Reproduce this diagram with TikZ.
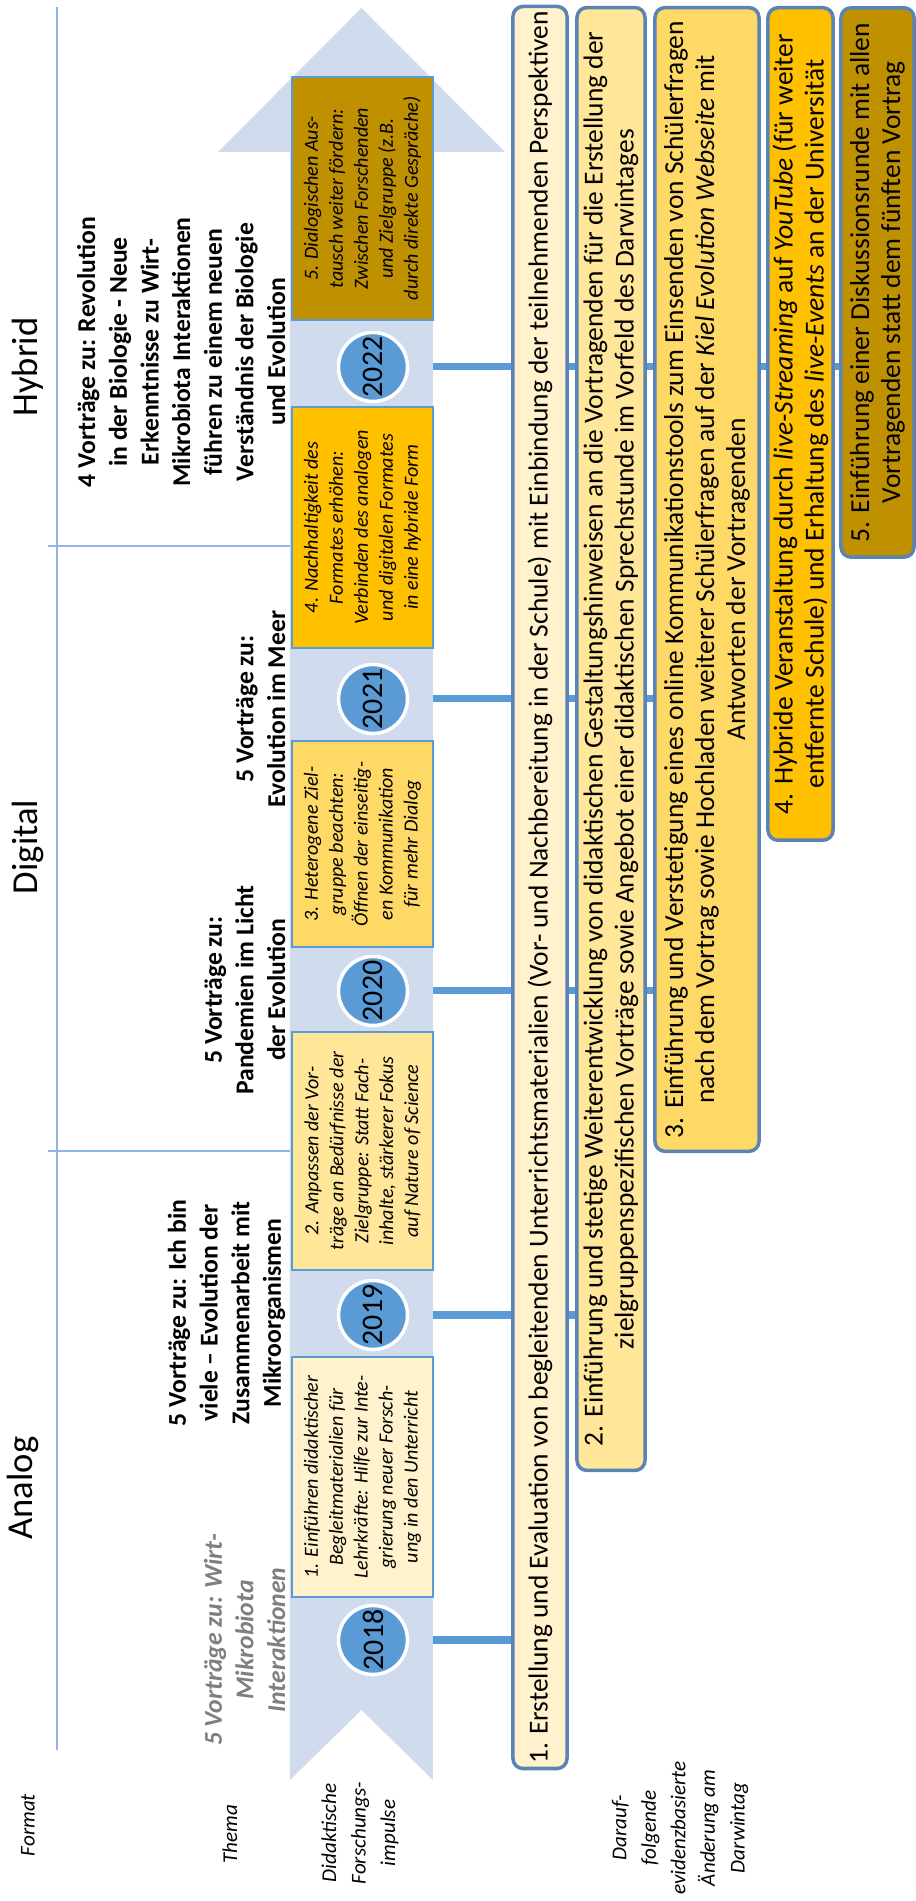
\documentclass[tikz,border=0pt]{standalone}
\usepackage{fontspec}
\setmainfont{Carlito}
\usepackage{tikz}
\usetikzlibrary{backgrounds}
\usepackage{xcolor}
\definecolor{ArrowBg}{HTML}{D0DBEE}
\definecolor{YearBlue}{HTML}{5B9BD5}
\definecolor{GridBlue}{HTML}{8EB4E3}
\definecolor{BoxBorder}{HTML}{5B84B4}
\definecolor{ImpOne}{HTML}{FFF2CC}
\definecolor{ImpTwo}{HTML}{FFE699}
\definecolor{ImpThree}{HTML}{FFD966}
\definecolor{ImpFour}{HTML}{FFC000}
\definecolor{ImpFive}{HTML}{BF9000}
\definecolor{ThemeGray}{HTML}{7F7F7F}

\begin{document}
\begin{tikzpicture}[x=0.01cm, y=0.01cm, rotate=90, transform shape,
    formatlabel/.style={font=\fontsize{10.4}{12}\selectfont, inner sep=0pt, anchor=base},
    rowlabel/.style={font=\fontsize{6}{8.4}\selectfont\itshape, align=center, inner sep=0pt},
    themenode/.style={font=\fontsize{7.3}{9}\selectfont\bfseries, align=center, inner sep=0pt, anchor=south},
    impnode/.style={draw=YearBlue, line width=0.5pt, font=\fontsize{5.7}{7.1}\selectfont\itshape, align=center, minimum height=1.41cm, inner sep=0pt},
    yearnode/.style={circle, fill=YearBlue, draw=white, line width=1pt, minimum size=0.69cm, inner sep=0pt, font=\fontsize{8.5}{10}\selectfont},
    changenode/.style={draw=BoxBorder, line width=1pt, rounded corners=1mm, font=\fontsize{7.8}{8.8}\selectfont, align=center, inner sep=0pt},
    yearline/.style={draw=YearBlue, line width=2pt},
    gridline/.style={draw=GridBlue, line width=0.6pt}
  ]
    \useasboundingbox (0, 0) rectangle (1901, 916);

    \draw[gridline] (151, 859) -- (1894, 859);
    \draw[gridline] (750, 623) -- (750, 868);
    \draw[gridline] (1355, 623) -- (1355, 868);

    \node[formatlabel] (analog) at (413, 883) {Analog};
    \node[formatlabel] (digital) at (1054, 878) {Digital};
    \node[formatlabel] (hybrid) at (1534, 878) {Hybrid};

    \node[rowlabel] (lformat) at (76, 888) {Format};
    \node[rowlabel] (lthema) at (67, 686) {Thema};
    \node[rowlabel] (limpuls) at (68, 556) {Didaktische\\Forschungs-\\impulse};
    \node[rowlabel] (laenderung) at (73, 236) {Darauf-\\folgende\\evidenzbasierte\\Änderung am\\Darwintag};

    \node[themenode, text=ThemeGray, font=\fontsize{7.3}{9}\selectfont\bfseries\itshape] (t2018) at (261, 630) {5 Vorträge zu: Wirt-\\Mikrobiota\\Interaktionen};
    \node[themenode] (t2019) at (588, 630) {5 Vorträge zu: Ich bin\\viele – Evolution der\\Zusammenarbeit mit\\Mikroorganismen};
    \node[themenode] (t2020) at (911, 630) {5 Vorträge zu:\\Pandemien im Licht\\der Evolution};
    \node[themenode] (t2021) at (1192, 630) {5 Vorträge zu:\\Evolution im Meer};
    \node[themenode] (t2022) at (1549, 630) {4 Vorträge zu: Revolution\\in der Biologie - Neue\\Erkenntnisse zu Wirt-\\Mikrobiota Interaktionen\\führen zu einem neuen\\Verständnis der Biologie\\und Evolution};

    \fill[ArrowBg] (121, 483) -- (1749, 483) -- (1749, 411) -- (1893, 554.5) -- (1749, 698) -- (1749, 626) -- (121, 626) -- (191, 554.5) -- cycle;

    \node[impnode, fill=ImpOne, minimum width=2.40cm] (i1) at (424, 553.5) {1. Einführen didaktischer\\Begleitmaterialien für\\Lehrkräfte: Hilfe zur Inte-\\grierung neuer Forsch-\\ung in den Unterricht};
    \node[impnode, fill=ImpTwo, minimum width=2.38cm] (i2) at (750, 553.5) {2. Anpassen der Vor-\\träge an Bedürfnisse der\\Zielgruppe: Statt Fach-\\inhalte, stärkerer Fokus\\auf Nature of Science};
    \node[impnode, fill=ImpThree, minimum width=2.06cm] (i3) at (1057, 553.5) {3. Heterogene Ziel-\\gruppe beachten:\\Öffnen der einseitig-\\en Kommunikation\\für mehr Dialog};
    \node[impnode, fill=ImpFour, minimum width=2.41cm] (i4) at (1373.5, 553.5) {4. Nachhaltigkeit des\\Formates erhöhen:\\Verbinden des analogen\\und digitalen Formates\\in eine hybride Form};
    \node[impnode, fill=ImpFive, minimum width=2.43cm] (i5) at (1702.5, 553.5) {5. Dialogischen Aus-\\tausch weiter fördern:\\Zwischen Forschenden\\und Zielgruppe (z.B.\\durch direkte Gespräche)};

    \node[yearnode] (y2018) at (261, 543) {2018};
    \node[yearnode] (y2019) at (586, 543) {2019};
    \node[yearnode] (y2020) at (910, 543) {2020};
    \node[yearnode] (y2021) at (1202, 543) {2021};
    \node[yearnode] (y2022) at (1534, 543) {2022};

    \node[changenode, fill=ImpOne, minimum width=17.61cm, minimum height=0.54cm] (c1) at (1013.5, 376) {1. Erstellung und Evaluation von begleitenden Unterrichtsmaterialien (Vor- und Nachbereitung in der Schule) mit Einbindung der teilnehmenden Perspektiven};
    \node[changenode, fill=ImpTwo, minimum width=14.62cm, minimum height=0.68cm] (c2) at (1162, 305) {2. Einführung und stetige Weiterentwicklung von didaktischen Gestaltungshinweisen an die Vortragenden für die Erstellung der\\zielgruppenspezifischen Vorträge sowie Angebot einer didaktischen Sprechstunde im Vorfeld des Darwintages};
    \node[changenode, fill=ImpThree, minimum width=11.43cm, minimum height=1.04cm] (c3) at (1321.5, 209) {3. Einführung und Verstetigung eines online Kommunikationstools zum Einsenden von Schülerfragen\\nach dem Vortrag sowie Hochladen weiterer Schülerfragen auf der \textit{Kiel Evolution Webseite} mit\\Antworten der Vortragenden};
    \node[changenode, fill=ImpFour, minimum width=8.32cm, minimum height=0.65cm] (c4) at (1477, 115.5) {4. Hybride Veranstaltung durch \textit{live-Streaming} auf \textit{YouTube} (für weiter\\entfernte Schule) und Erhaltung des \textit{live-Events} an der Universität};
    \node[changenode, fill=ImpFive, minimum width=5.49cm, minimum height=0.73cm] (c5) at (1618.5, 38.5) {5. Einführung einer Diskussionsrunde mit allen\\Vortragenden statt dem fünften Vortrag};

    \begin{scope}[on background layer]
      \draw[yearline] (y2018) -- (y2018 |- c1.north);
      \draw[yearline] (y2019) -- (y2019 |- c2.north);
      \draw[yearline] (y2020) -- (y2020 |- c3.north);
      \draw[yearline] (y2021) -- (y2021 |- c3.north);
      \draw[yearline] (y2022) -- (y2022 |- c5.north);
    \end{scope}
  \end{tikzpicture}
\end{document}
